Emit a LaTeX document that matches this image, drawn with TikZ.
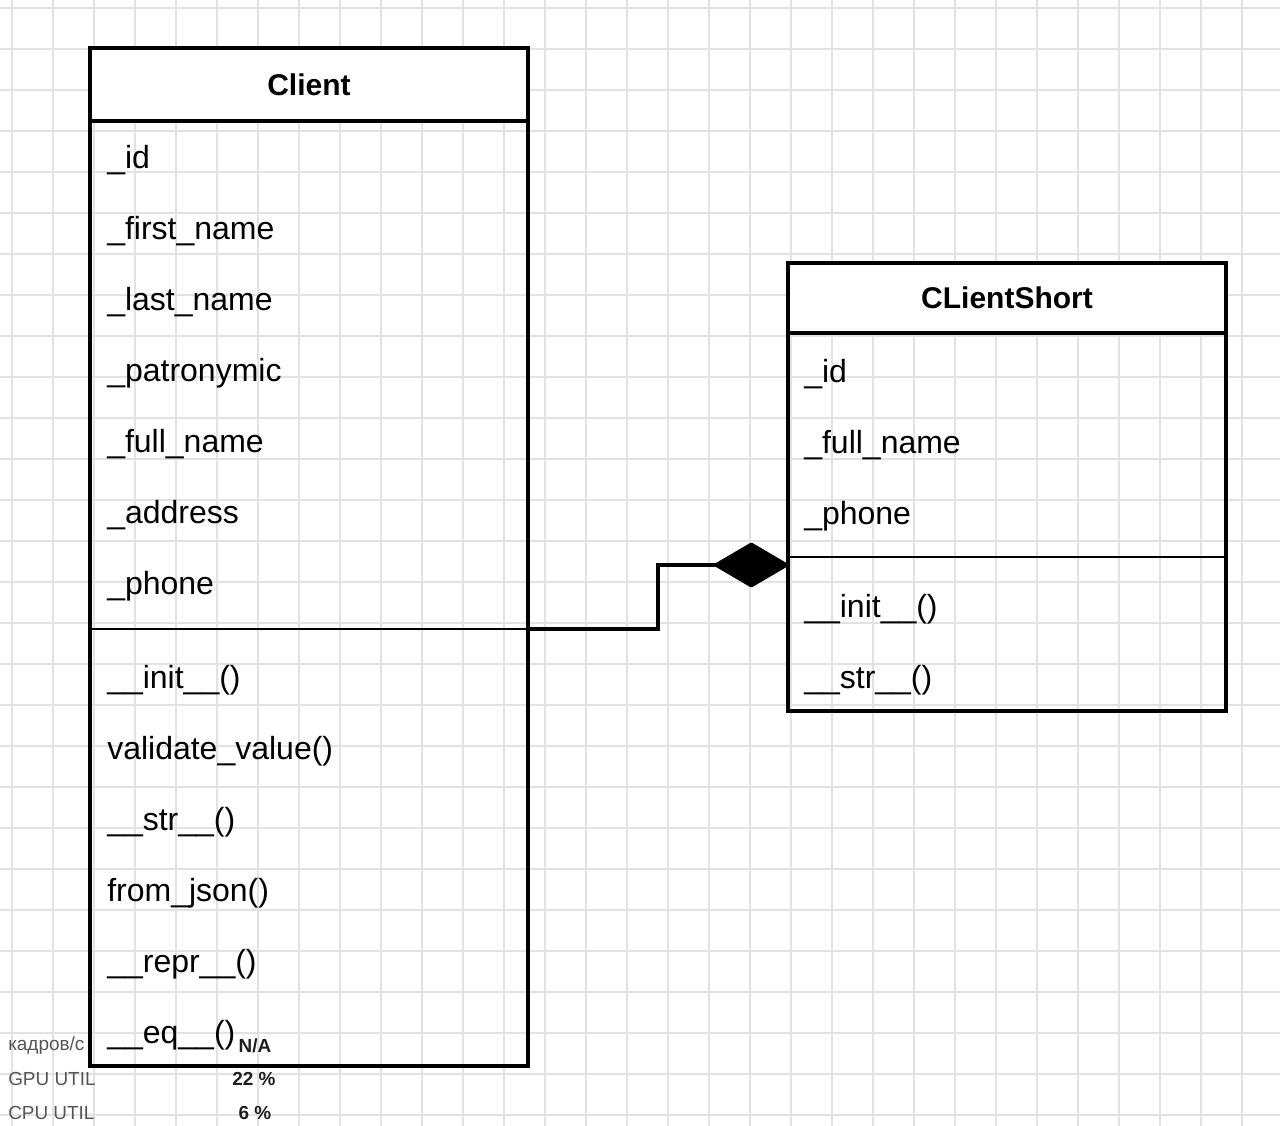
\documentclass[tikz,border=0pt]{standalone}
\usepackage{fontspec}
\setmainfont{Liberation Sans}
\usepackage{xcolor}
\definecolor{gridgray}{RGB}{226, 226, 226}
\definecolor{hudgray}{RGB}{85, 85, 85}
\definecolor{hudvalue}{RGB}{30, 30, 30}
\usepackage{tikz}
\usetikzlibrary{arrows.meta, positioning}
\tikzstyle{classhead} = [draw, line width=3pt, fill=white, outer sep=0pt, minimum width=328.5pt, font=\fontsize{22.5}{26}\selectfont\bfseries]
\tikzstyle{classpart} = [outer sep=0pt, minimum width=328.5pt, inner sep=0pt]
\tikzstyle{member} = [anchor=west, inner sep=0pt, font=\fontsize{24}{28}\selectfont]
\tikzstyle{hud} = [inner sep=0pt, font=\fontsize{14.2}{17}\selectfont]

\begin{document}
\begin{tikzpicture}[x=0.75pt, y=-0.75pt]
    \useasboundingbox (0,0) rectangle (1280,1126);

    % Background grid
    \foreach \gx in {12,53,...,1280} \draw[gridgray, line width=1.2pt] (\gx,0) -- (\gx,1126);
    \foreach \gy in {8,49,...,1126} \draw[gridgray, line width=1.2pt] (0,\gy) -- (1280,\gy);

    % Screen overlay (bottom left)
    \node[hud, anchor=west, text=hudgray] (fpslabel) at (8,1046) {кадров/с};
    \node[hud, anchor=west, text=hudgray] (gpulabel) at (8,1079) {GPU UTIL};
    \node[hud, anchor=west, text=hudgray] (cpulabel) at (8,1113) {CPU UTIL};
    \node[hud, text=hudvalue, font=\fontsize{14.2}{17}\selectfont\bfseries] (fpsvalue) at (255,1046) {N/A};
    \node[hud, text=hudvalue, font=\fontsize{14.2}{17}\selectfont\bfseries] (gpuvalue) at (254,1079) {22 \%};
    \node[hud, text=hudvalue, font=\fontsize{14.2}{17}\selectfont\bfseries] (cpuvalue) at (255,1113) {6 \%};

    % Class Client
    \node[classhead, minimum height=54.75pt] (clienthead) at (309,84.5) {Client};
    \node[classpart, minimum height=381pt, below=0pt of clienthead] (clientattr) {};
    \node[classpart, minimum height=327.75pt, below=0pt of clientattr] (clientops) {};
    \draw[line width=3pt] (clienthead.south west) rectangle (clientops.south east);
    \draw[line width=1.6pt] (clientattr.south west) -- (clientattr.south east);
    \foreach \name [count=\i] in {\_id, \_first\_name, \_last\_name, \_patronymic, \_full\_name, \_address, \_phone}
        \node[member] (clientattr\i) at (107,{160+71.1*(\i-1)}) {\name};
    \foreach \name [count=\i] in {\_\_init\_\_(), validate\_value(), \_\_str\_\_(), from\_json(), \_\_repr\_\_(), \_\_eq\_\_()}
        \node[member] (clientop\i) at (107,{680+71.1*(\i-1)}) {\name};

    % Class CLientShort
    \node[classhead, minimum height=52.5pt] (shorthead) at (1007,298) {CLientShort};
    \node[classpart, minimum height=168pt, below=0pt of shorthead] (shortattr) {};
    \node[classpart, minimum height=115.5pt, below=0pt of shortattr] (shortops) {};
    \draw[line width=3pt] (shorthead.south west) rectangle (shortops.south east);
    \draw[line width=1.6pt] (shortattr.south west) -- (shortattr.south east);
    \foreach \name [count=\i] in {\_id, \_full\_name, \_phone}
        \node[member] (shortattr\i) at (804,{374+71*(\i-1)}) {\name};
    \foreach \name [count=\i] in {\_\_init\_\_(), \_\_str\_\_()}
        \node[member] (shortop\i) at (804,{609+71*(\i-1)}) {\name};

    % Composition
    \coordinate (shortjoin) at (788,565);
    \draw[-{Diamond[length=58pt, width=34pt, round]}, line width=3pt]
        (clientattr.south east) -- ++(130,0) |- (shortjoin);
\end{tikzpicture}
\end{document}
